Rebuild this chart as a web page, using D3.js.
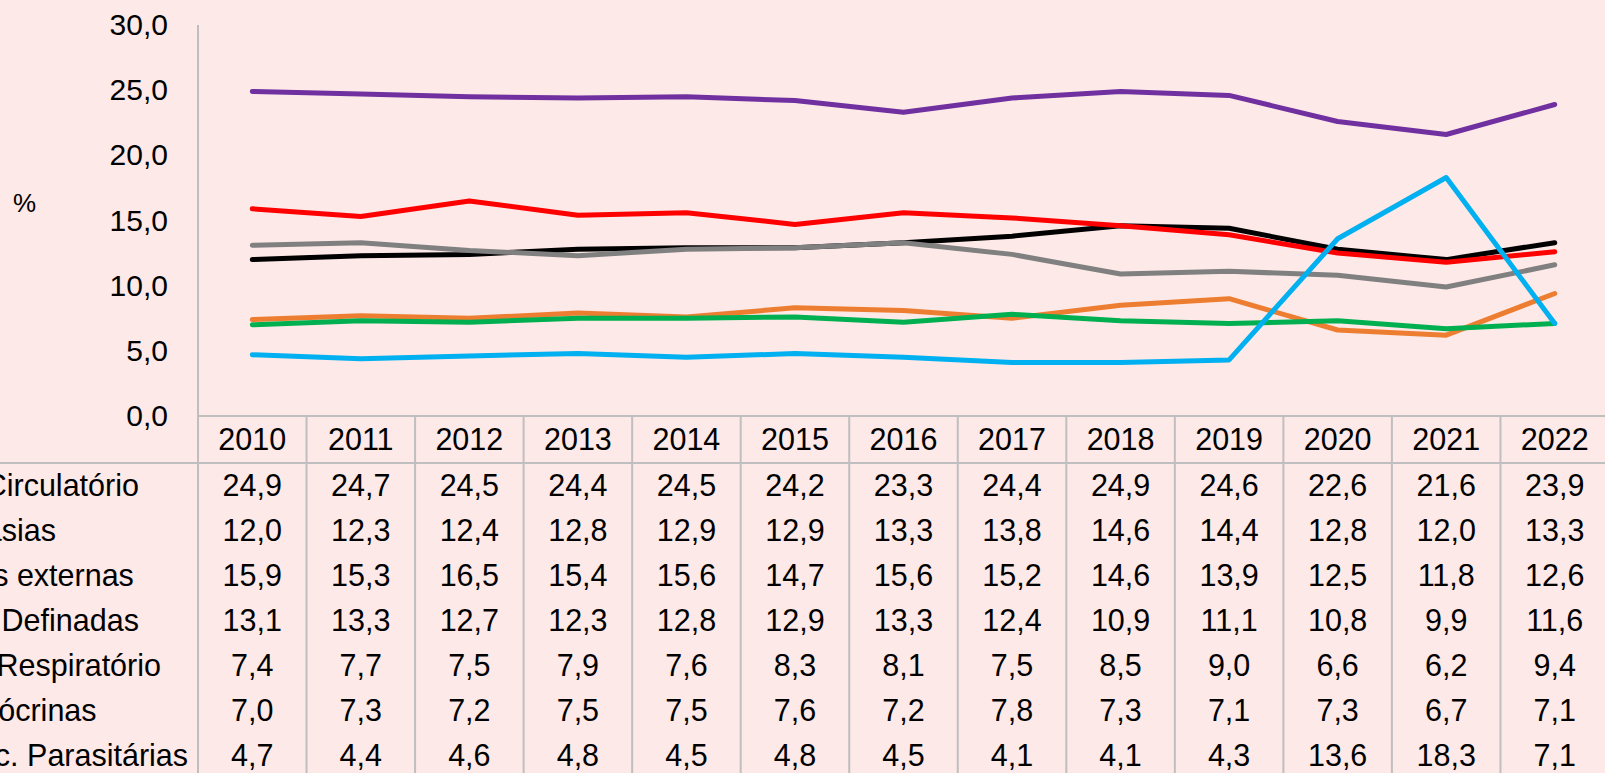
<!DOCTYPE html>
<html>
<head>
<meta charset="utf-8">
<script src="https://cdn.jsdelivr.net/npm/d3@7"></script>
<style>
  html, body { margin: 0; padding: 0; background: #fde9e7; overflow: hidden; }
  svg { display: block; font-family: "Liberation Sans", Arial, sans-serif; }
</style>
</head>
<body>
<div id="chart"></div>
<script>
var years = ["2010", "2011", "2012", "2013", "2014", "2015", "2016", "2017", "2018", "2019", "2020", "2021", "2022"];
var seriesNames = ["Apar. Circulatório", "Neoplasias", "Causas externas", "C. Mal Definadas", "D. Ap. Respiratório", "D. Endócrinas", "D. Infec. Parasitárias"];
var circulatorio = [24.9, 24.7, 24.5, 24.4, 24.5, 24.2, 23.3, 24.4, 24.9, 24.6, 22.6, 21.6, 23.9];
var neoplasias = [12.0, 12.3, 12.4, 12.8, 12.9, 12.9, 13.3, 13.8, 14.6, 14.4, 12.8, 12.0, 13.3];
var externas = [15.9, 15.3, 16.5, 15.4, 15.6, 14.7, 15.6, 15.2, 14.6, 13.9, 12.5, 11.8, 12.6];
var malDefinidas = [13.1, 13.3, 12.7, 12.3, 12.8, 12.9, 13.3, 12.4, 10.9, 11.1, 10.8, 9.9, 11.6];
var respiratorio = [7.4, 7.7, 7.5, 7.9, 7.6, 8.3, 8.1, 7.5, 8.5, 9.0, 6.6, 6.2, 9.4];
var endocrinas = [7.0, 7.3, 7.2, 7.5, 7.5, 7.6, 7.2, 7.8, 7.3, 7.1, 7.3, 6.7, 7.1];
var parasitarias = [4.7, 4.4, 4.6, 4.8, 4.5, 4.8, 4.5, 4.1, 4.1, 4.3, 13.6, 18.3, 7.1];
var yTicks = [0, 5, 10, 15, 20, 25, 30];

var colors = ["#7030a0", "#000000", "#ff0000", "#808080", "#ed7d31", "#00b050", "#00b0f0"];
var allSeries = [circulatorio, neoplasias, externas, malDefinidas, respiratorio, endocrinas, parasitarias];

var W = 1605, H = 773;
var axisX = 198, plotTop = 25, plotBottom = 416;
var headerBottom = 463, rowH = 45;
var gridColor = "#bfbfbf";

var fmt = d3.formatLocale({decimal: ",", thousands: ".", grouping: [3], currency: ["R$", ""]}).format(".1f");

var svg = d3.select("#chart").append("svg")
    .attr("width", W)
    .attr("height", H);

// last column runs a bit past the right edge (cropped)
var x = d3.scaleBand()
  .domain(years)
  .range([axisX, 1609])
  .padding(0);

var y = d3.scaleLinear()
  .domain([0, 30])
  .range([plotBottom, plotTop]);

// y axis, no ticks, labels only
var yAxis = svg.append("g")
  .attr("transform", "translate(" + axisX + ",0)")
  .call(d3.axisLeft(y).tickValues(yTicks).tickSize(0).tickPadding(30).tickFormat(fmt));
yAxis.select(".domain").remove();
yAxis.selectAll("text")
  .attr("font-size", 30)
  .attr("font-family", "Liberation Sans, Arial, sans-serif")
  .attr("fill", "#000");

svg.append("text")
  .attr("x", 13)
  .attr("y", 203)
  .attr("dy", "0.35em")
  .attr("font-size", 26)
  .text("%");

// table / axis lines
svg.append("line")
  .attr("x1", axisX).attr("x2", axisX)
  .attr("y1", plotTop).attr("y2", H)
  .attr("stroke", gridColor).attr("stroke-width", 2);
svg.append("line")
  .attr("x1", axisX).attr("x2", W)
  .attr("y1", plotBottom).attr("y2", plotBottom)
  .attr("stroke", gridColor).attr("stroke-width", 2);
svg.append("line")
  .attr("x1", 0).attr("x2", W)
  .attr("y1", headerBottom).attr("y2", headerBottom)
  .attr("stroke", gridColor).attr("stroke-width", 2);

svg.selectAll(".colline")
  .data(years.slice(1))
  .enter().append("line")
  .attr("x1", function(d) { return x(d); })
  .attr("x2", function(d) { return x(d); })
  .attr("y1", plotBottom)
  .attr("y2", H)
  .attr("stroke", gridColor)
  .attr("stroke-width", 2);

// header years
svg.selectAll(".year")
  .data(years)
  .enter().append("text")
  .attr("x", function(d) { return x(d) + x.bandwidth() / 2; })
  .attr("y", (plotBottom + headerBottom) / 2)
  .attr("dy", "0.36em")
  .attr("text-anchor", "middle")
  .attr("font-size", 30.5)
  .text(function(d) { return d; });

// table rows
var rows = svg.selectAll(".row")
  .data(allSeries)
  .enter().append("g")
  .attr("transform", function(d, i) { return "translate(0," + (headerBottom + rowH * i + rowH / 2) + ")"; });

rows.append("text")
  .attr("x", -95)
  .attr("dy", "0.36em")
  .attr("font-size", 30.5)
  .text(function(d, i) { return seriesNames[i]; });

rows.selectAll(".val")
  .data(function(d) { return d; })
  .enter().append("text")
  .attr("x", function(d, i) { return x(years[i]) + x.bandwidth() / 2; })
  .attr("dy", "0.36em")
  .attr("text-anchor", "middle")
  .attr("font-size", 30.5)
  .text(function(d) { return fmt(d); });

// lines
var line = d3.line()
  .x(function(d, i) { return x(years[i]) + x.bandwidth() / 2; })
  .y(function(d) { return y(d); });

svg.selectAll(".series")
  .data(allSeries)
  .enter().append("path")
  .attr("d", line)
  .attr("fill", "none")
  .attr("stroke", function(d, i) { return colors[i]; })
  .attr("stroke-width", 5)
  .attr("stroke-linejoin", "round")
  .attr("stroke-linecap", "round");
</script>
</body>
</html>
